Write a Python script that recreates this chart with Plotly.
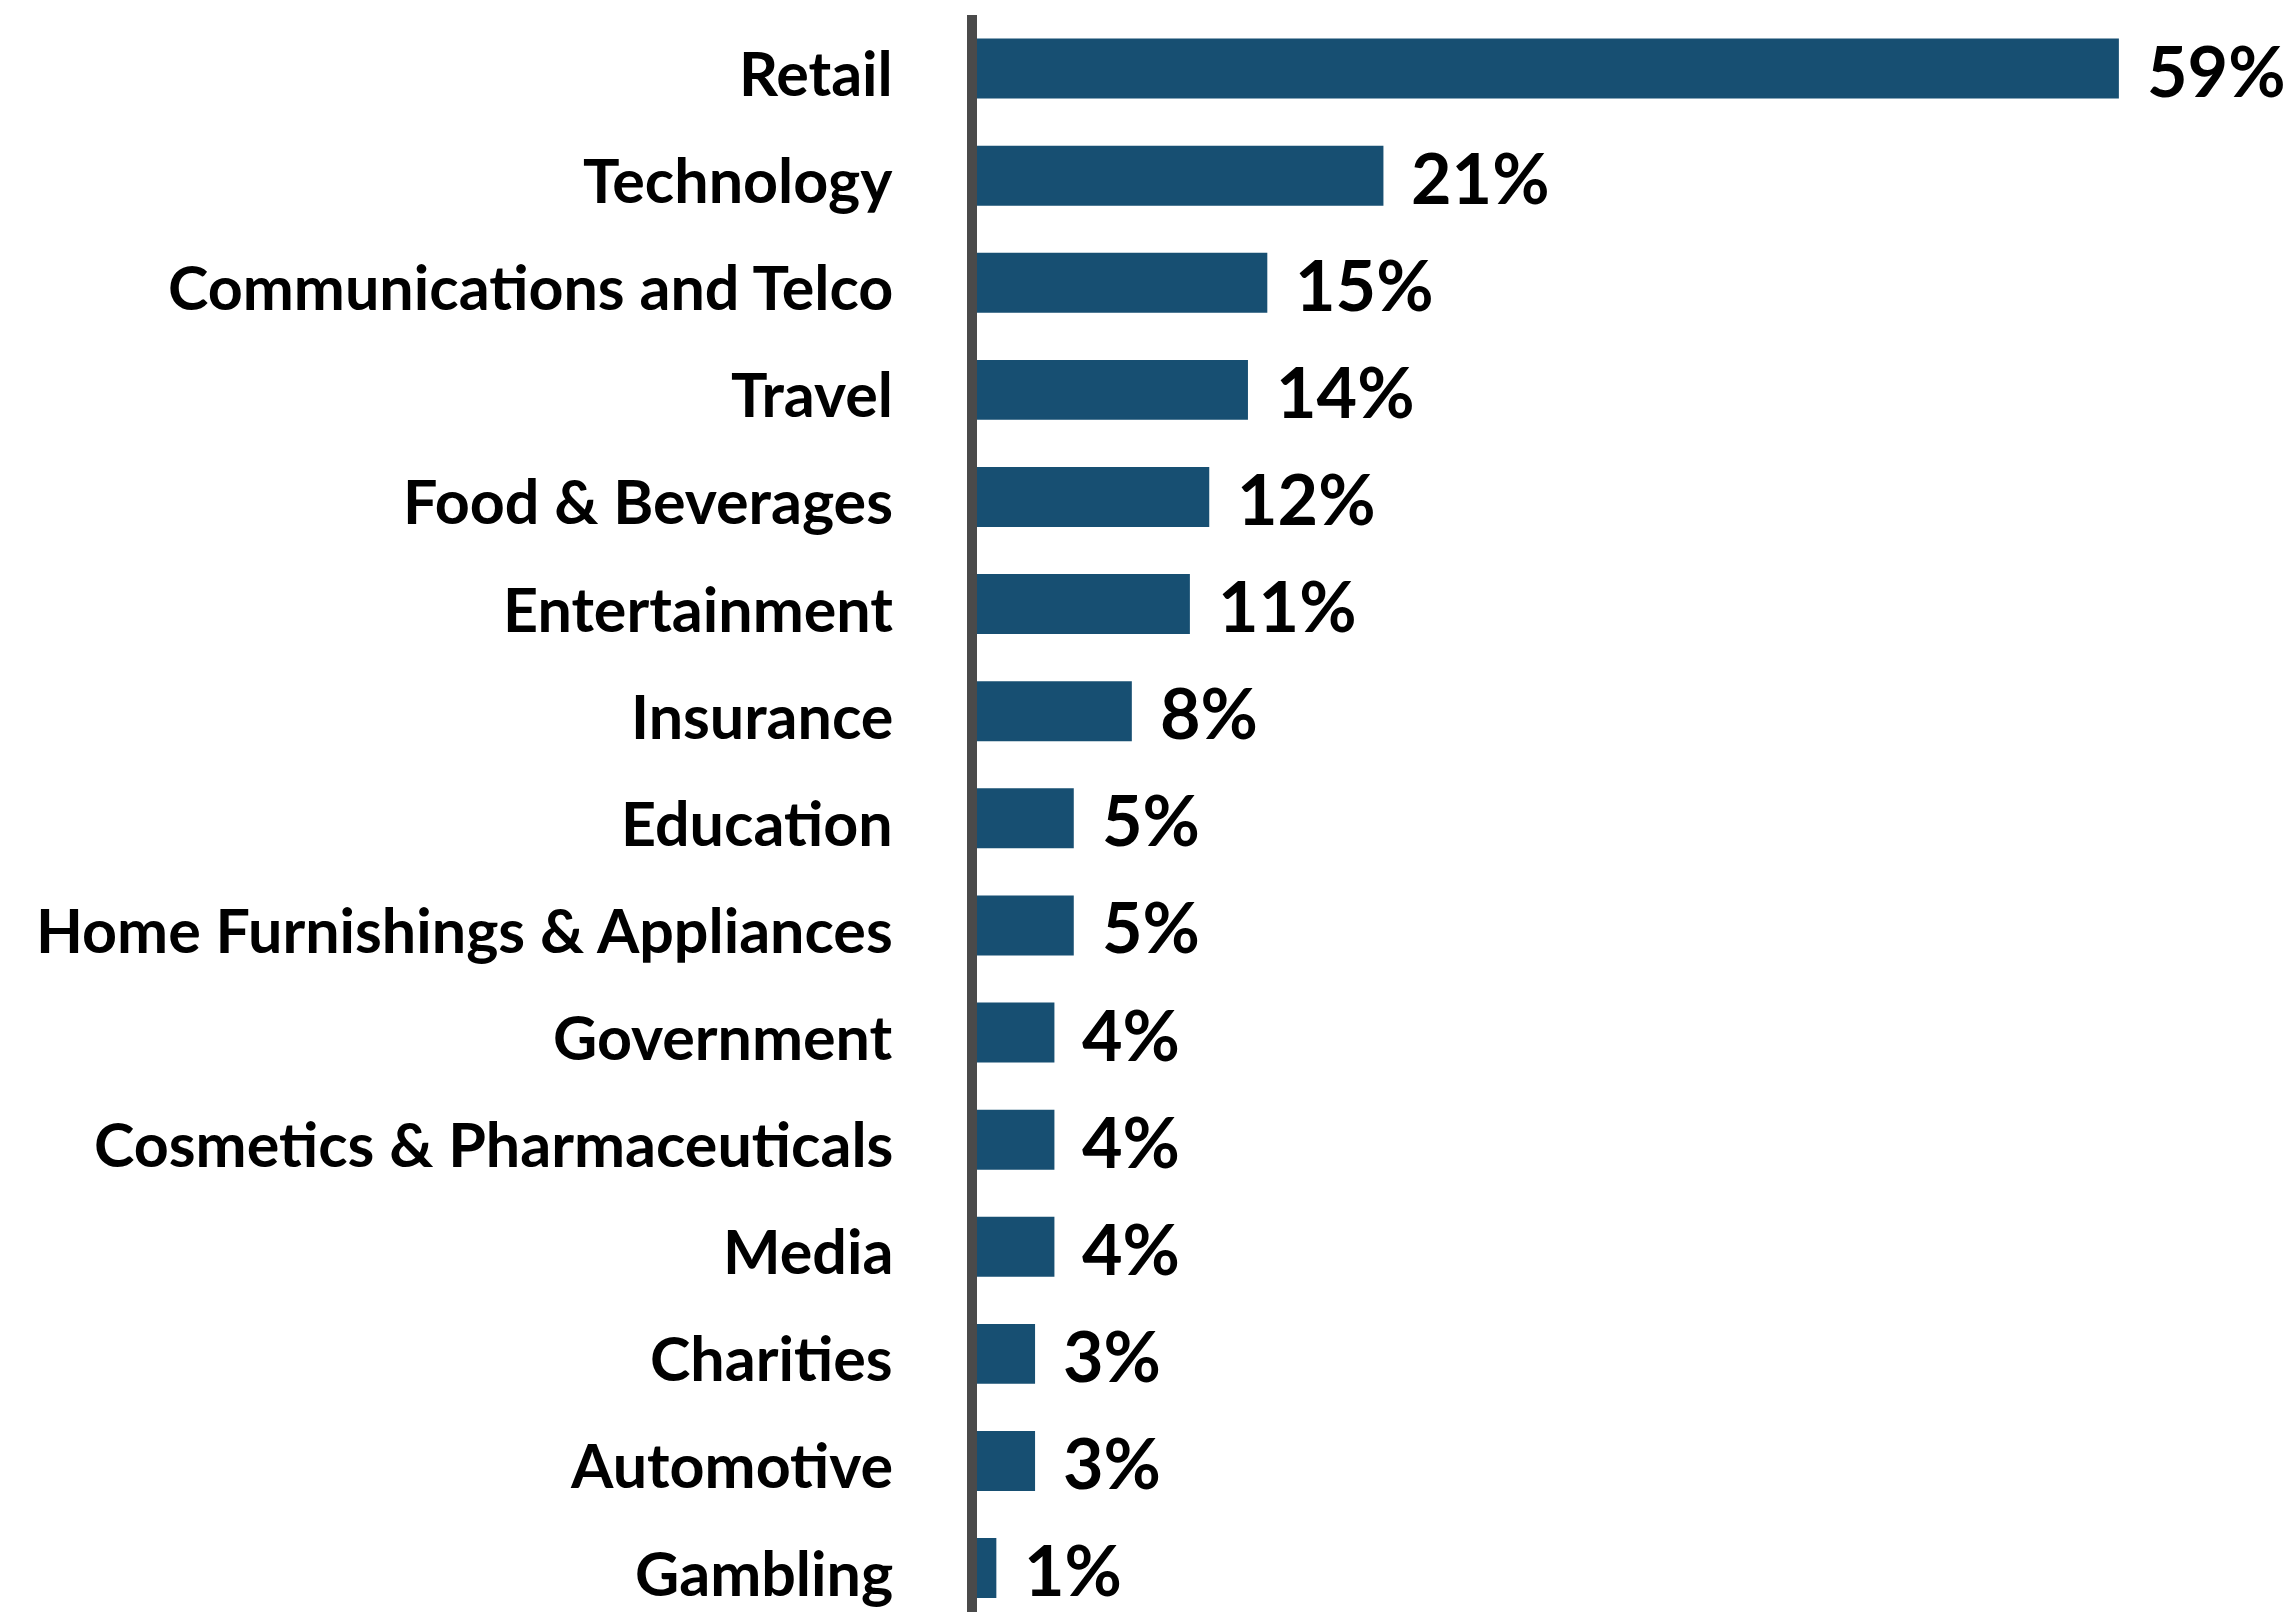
import plotly.graph_objects as go

# Share of respondents by industry (%)
industries = [
    "Retail", "Technology", "Communications and Telco", "Travel",
    "Food & Beverages", "Entertainment", "Insurance", "Education",
    "Home Furnishings & Appliances", "Government",
    "Cosmetics & Pharmaceuticals", "Media", "Charities", "Automotive",
    "Gambling",
]
shares = [59, 21, 15, 14, 12, 11, 8, 5, 5, 4, 4, 4, 3, 3, 1]
value_labels = [f"{v}%" for v in shares]

BAR_COLOR = "#174f72"
AXIS_COLOR = "#4a4a4a"
FONT = "Lato"

fig = go.Figure(
    go.Bar(
        x=shares,
        y=industries,
        orientation="h",
        marker=dict(color=BAR_COLOR, line=dict(width=0)),
        width=0.56,
        hoverinfo="skip",
    )
)

# category names to the left of the axis line
for name in industries:
    fig.add_annotation(
        x=0, xref="paper", y=name, text=name, showarrow=False,
        xanchor="right", yanchor="middle", xshift=-82, yshift=-4,
        font=dict(family=FONT, size=61, color="#000000", weight="bold"),
    )

# value labels to the right of each bar
for name, v, lab in zip(industries, shares, value_labels):
    fig.add_annotation(
        x=v, y=name, text=lab, showarrow=False,
        xanchor="left", yanchor="middle", xshift=26, yshift=-1,
        font=dict(family=FONT, size=70, color="#000000", weight="bold"),
    )

fig.update_layout(
    width=2295, height=1612,
    margin=dict(l=977, r=0, t=15, b=0),
    paper_bgcolor="white", plot_bgcolor="white",
    showlegend=False,
    xaxis=dict(
        range=[0, 68.1], visible=False, showgrid=False, zeroline=False,
    ),
    yaxis=dict(
        categoryorder="array", categoryarray=industries,
        range=[14.41, -0.5],
        showgrid=False, zeroline=False,
        showline=True, linewidth=10, linecolor=AXIS_COLOR,
        ticks="", showticklabels=False,
    ),
)

fig.write_html("out.html")
